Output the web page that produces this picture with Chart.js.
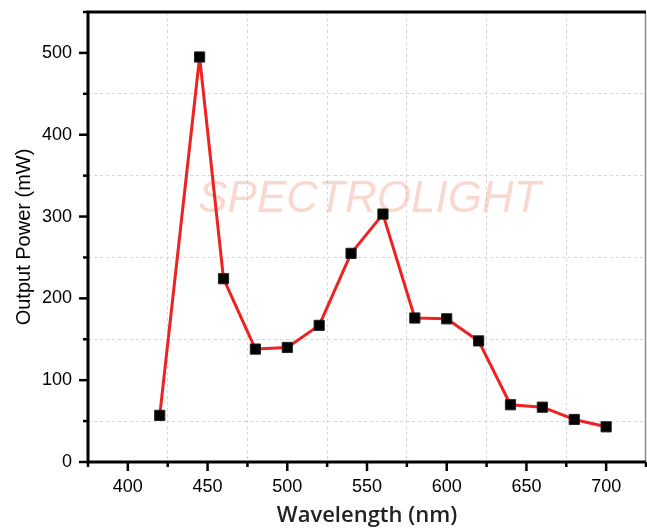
<!DOCTYPE html>
<html>
<head>
<meta charset="utf-8">
<script src="https://cdn.jsdelivr.net/npm/chart.js@4/dist/chart.umd.min.js"></script>
<style>
  html, body { margin: 0; padding: 0; background: #fff; }
  #wrap { width: 647px; height: 531px; position: relative; }
</style>
</head>
<body>
<div id="wrap"><canvas id="c" width="647" height="531"></canvas></div>
<script>
const wavelengths = [420, 445, 460, 480, 500, 520, 540, 560, 580, 600, 620, 640, 660, 680, 700];
const outputPower = [57, 495, 224, 138, 140, 167, 255, 303, 176, 175, 148, 70, 67, 52, 43];
const xTickLabels = [400, 450, 500, 550, 600, 650, 700];
const yTickLabels = [0, 100, 200, 300, 400, 500];
const xTitle = 'Wavelength (nm)';
const yTitle = 'Output Power (mW)';
const watermark = 'SPECTROLIGHT';

const points = wavelengths.map((w, i) => ({ x: w, y: outputPower[i] }));

const isMinor = (v, major) => Math.abs(v % major) > 1e-6;
const zeroPad = s => { s.paddingTop = 0; s.paddingBottom = 0; s.paddingLeft = 0; s.paddingRight = 0; };

const framePlugin = {
  id: 'frame',
  beforeDatasetsDraw(chart) {
    const { ctx } = chart;
    ctx.save();
    ctx.font = 'italic 44px "Liberation Sans", Arial, sans-serif';
    ctx.fillStyle = 'rgba(240, 155, 130, 0.38)';
    ctx.textAlign = 'center';
    ctx.textBaseline = 'middle';
    ctx.fillText(watermark, chart.scales.x.getPixelForValue(551.5), chart.scales.y.getPixelForValue(320));
    ctx.restore();
  },
  afterDraw(chart) {
    const { ctx, chartArea } = chart;
    const xs = chart.scales.x, ys = chart.scales.y;
    ctx.save();
    ctx.strokeStyle = '#000';
    ctx.lineCap = 'butt';
    ctx.lineWidth = 2.5;
    xs.ticks.forEach(t => {
      const px = xs.getPixelForValue(t.value);
      const len = isMinor(t.value, 50) ? 5 : 9;
      ctx.beginPath();
      ctx.moveTo(px, chartArea.bottom);
      ctx.lineTo(px, chartArea.bottom + len);
      ctx.stroke();
    });
    ys.ticks.forEach(t => {
      const py = ys.getPixelForValue(t.value);
      const len = isMinor(t.value, 100) ? 5 : 9;
      ctx.beginPath();
      ctx.moveTo(chartArea.left, py);
      ctx.lineTo(chartArea.left - len, py);
      ctx.stroke();
    });
    ctx.strokeStyle = '#8a8a8a';
    ctx.lineWidth = 1.5;
    ctx.beginPath();
    ctx.moveTo(chartArea.right - 0.5, chartArea.top);
    ctx.lineTo(chartArea.right - 0.5, chartArea.bottom);
    ctx.stroke();
    ctx.strokeStyle = '#000';
    ctx.lineWidth = 3;
    ctx.beginPath();
    ctx.moveTo(chartArea.left, chartArea.top - 1.5);
    ctx.lineTo(chartArea.left, chartArea.bottom + 1.5);
    ctx.moveTo(chartArea.left - 1.5, chartArea.bottom);
    ctx.lineTo(chartArea.right, chartArea.bottom);
    ctx.moveTo(chartArea.left - 1.5, chartArea.top);
    ctx.lineTo(chartArea.right, chartArea.top);
    ctx.stroke();
    ctx.restore();
  }
};

new Chart(document.getElementById('c'), {
  type: 'line',
  data: {
    datasets: [{
      data: points,
      borderColor: '#ee2222',
      borderWidth: 3,
      borderJoinStyle: 'round',
      backgroundColor: '#000',
      pointStyle: 'rect',
      pointRadius: 7.2,
      pointBackgroundColor: '#000',
      pointBorderColor: '#222',
      pointBorderWidth: 1,
      tension: 0,
      fill: false
    }]
  },
  options: {
    responsive: false,
    animation: false,
    devicePixelRatio: 1,
    layout: { autoPadding: false, padding: { top: 12, right: 1, left: 0, bottom: 0 } },
    plugins: { legend: { display: false }, tooltip: { enabled: false } },
    scales: {
      x: {
        type: 'linear',
        min: 375,
        max: 725,
        afterFit(s) { s.height = 69; zeroPad(s); },
        border: { display: false, dash: [3, 3] },
        grid: {
          drawTicks: false,
          color: ctx => (ctx.tick && isMinor(ctx.tick.value, 50) && ctx.tick.value > 375 && ctx.tick.value < 725) ? '#d6d6d6' : 'rgba(0,0,0,0)',
          lineWidth: 1
        },
        ticks: {
          stepSize: 25,
          autoSkip: false,
          maxRotation: 0,
          padding: 14,
          color: '#000',
          font: { family: '"Liberation Sans", Arial, sans-serif', size: 18 },
          callback: v => xTickLabels.includes(v) ? String(v) : ''
        },
        title: {
          display: true,
          text: xTitle,
          color: '#222',
          font: { family: '"Open Sans", "Noto Sans", sans-serif', size: 22, weight: '600' },
          padding: { top: 0, bottom: 2 }
        }
      },
      y: {
        type: 'linear',
        min: 0,
        max: 550,
        afterFit(s) { s.width = 88; zeroPad(s); },
        border: { display: false, dash: [3, 3] },
        grid: {
          drawTicks: false,
          color: ctx => (ctx.tick && isMinor(ctx.tick.value, 100) && ctx.tick.value < 550) ? '#d6d6d6' : 'rgba(0,0,0,0)',
          lineWidth: 1
        },
        ticks: {
          stepSize: 50,
          autoSkip: false,
          padding: 16,
          color: '#000',
          font: { family: '"Liberation Sans", Arial, sans-serif', size: 18 },
          callback: v => yTickLabels.includes(v) ? String(v) : ''
        },
        title: {
          display: true,
          text: yTitle,
          color: '#000',
          font: { family: '"Liberation Sans", Arial, sans-serif', size: 20 },
          padding: { top: 12, bottom: 0 }
        }
      }
    }
  },
  plugins: [framePlugin]
});
</script>
</body>
</html>
